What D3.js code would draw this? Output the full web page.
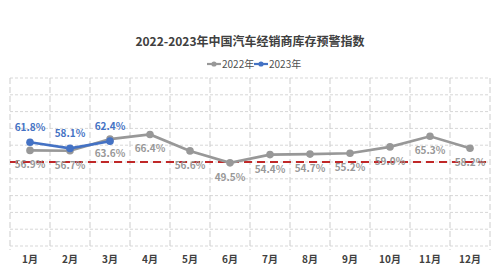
<!DOCTYPE html>
<html>
<head>
<meta charset="utf-8">
<script src="https://cdn.jsdelivr.net/npm/d3@7"></script>
<style>
  body { margin: 0; background: #fff; }
  text { font-family: "Liberation Sans Narrow", "Noto Sans CJK SC", sans-serif; }
</style>
</head>
<body>
<svg id="chart" width="500" height="278"></svg>
<script>
// data
var months = ['1月', '2月', '3月', '4月', '5月', '6月', '7月', '8月', '9月', '10月', '11月', '12月'];
var values2022 = [56.9, 56.7, 63.6, 66.4, 56.6, 49.5, 54.4, 54.7, 55.2, 59.0, 65.3, 58.2];
var values2023 = [61.8, 58.1, 62.4];
var seriesNames = ['2022年', '2023年'];
var warningLine = 50;
var yTicks = [0, 10, 20, 30, 40, 50, 60, 70, 80, 90, 100];

var grey = 'rgb(152,152,152)';
var blue = 'rgb(68,114,196)';

var margin = {top: 78, right: 10, bottom: 32, left: 10};
var width = 500 - margin.left - margin.right;
var height = 278 - margin.top - margin.bottom;

var svg = d3.select('#chart');

svg.append('text')
   .attr('x', 250)
   .attr('y', 46)
   .attr('text-anchor', 'middle')
   .attr('font-size', '12px')
   .attr('font-weight', 'bold')
   .attr('fill', 'rgb(64,64,64)')
   .style('font-family', '"Noto Sans CJK SC", sans-serif')
   .text('2022-2023年中国汽车经销商库存预警指数');

var g = svg.append('g')
           .attr('transform', 'translate(' + margin.left + ',' + margin.top + ')');

var x = d3.scaleBand().domain(months).range([0, width]);
var y = d3.scaleLinear().domain([0, 100]).range([height, 0]);

// horizontal gridlines
g.selectAll('.hgrid')
 .data(yTicks)
 .enter()
 .append('line')
 .attr('x1', 0)
 .attr('x2', width)
 .attr('y1', d => y(d))
 .attr('y2', d => y(d))
 .attr('stroke', 'rgb(215,215,215)')
 .attr('stroke-dasharray', '3,2')
 .attr('stroke-width', 1);

// vertical gridlines at band edges
var edges = months.map(m => x(m)).concat([width]);
g.selectAll('.vgrid')
 .data(edges)
 .enter()
 .append('line')
 .attr('x1', d => d)
 .attr('x2', d => d)
 .attr('y1', 0)
 .attr('y2', height + 4)
 .attr('stroke', 'rgb(205,205,205)')
 .attr('stroke-dasharray', '6,3')
 .attr('stroke-width', 1);

// month labels
g.append('g')
 .attr('transform', 'translate(0,' + height + ')')
 .call(d3.axisBottom(x).tickSize(0).tickPadding(10))
 .call(a => a.select('.domain').remove())
 .selectAll('text')
 .attr('font-size', '10px')
 .attr('font-weight', 'bold')
 .attr('fill', 'rgb(64,64,64)')
 .style('font-family', '"Liberation Sans Narrow", "Noto Sans CJK SC", sans-serif');

// warning line
g.append('line')
 .attr('x1', 0)
 .attr('x2', width)
 .attr('y1', y(warningLine))
 .attr('y2', y(warningLine))
 .attr('stroke', 'rgb(192,40,40)')
 .attr('stroke-width', 1.8)
 .attr('stroke-dasharray', '8,5');

var line = d3.line()
             .x((d, i) => x(months[i]) + x.bandwidth() / 2)
             .y(d => y(d));

function drawSeries(values, color, labelDy)
{
  g.append('path')
   .datum(values)
   .attr('fill', 'none')
   .attr('stroke', color)
   .attr('stroke-width', 2.6)
   .attr('d', line);

  g.selectAll(null)
   .data(values)
   .enter()
   .append('circle')
   .attr('cx', (d, i) => x(months[i]) + x.bandwidth() / 2)
   .attr('cy', d => y(d))
   .attr('r', 3.8)
   .attr('fill', color);

  g.selectAll(null)
   .data(values)
   .enter()
   .append('text')
   .attr('x', (d, i) => x(months[i]) + x.bandwidth() / 2)
   .attr('y', d => y(d) + labelDy)
   .attr('text-anchor', 'middle')
   .attr('font-size', '10px')
   .attr('font-weight', 'bold')
   .attr('fill', color)
   .text(d => d.toFixed(1) + '%');
}

drawSeries(values2022, grey, 18);
drawSeries(values2023, blue, -11);

// legend
var legend = svg.append('g').attr('transform', 'translate(207,64)');
[grey, blue].forEach((c, i) => {
  var lg = legend.append('g').attr('transform', 'translate(' + (i * 47) + ',0)');
  lg.append('line').attr('x1', 0).attr('x2', 14).attr('y1', 0).attr('y2', 0)
    .attr('stroke', c).attr('stroke-width', 2.2);
  lg.append('circle').attr('cx', 7).attr('cy', 0).attr('r', 2.6).attr('fill', c);
  lg.append('text').attr('x', 15).attr('y', 3.5)
    .attr('font-size', '10px')
    .attr('fill', 'rgb(80,80,80)')
    .text(seriesNames[i]);
});
</script>
</body>
</html>
